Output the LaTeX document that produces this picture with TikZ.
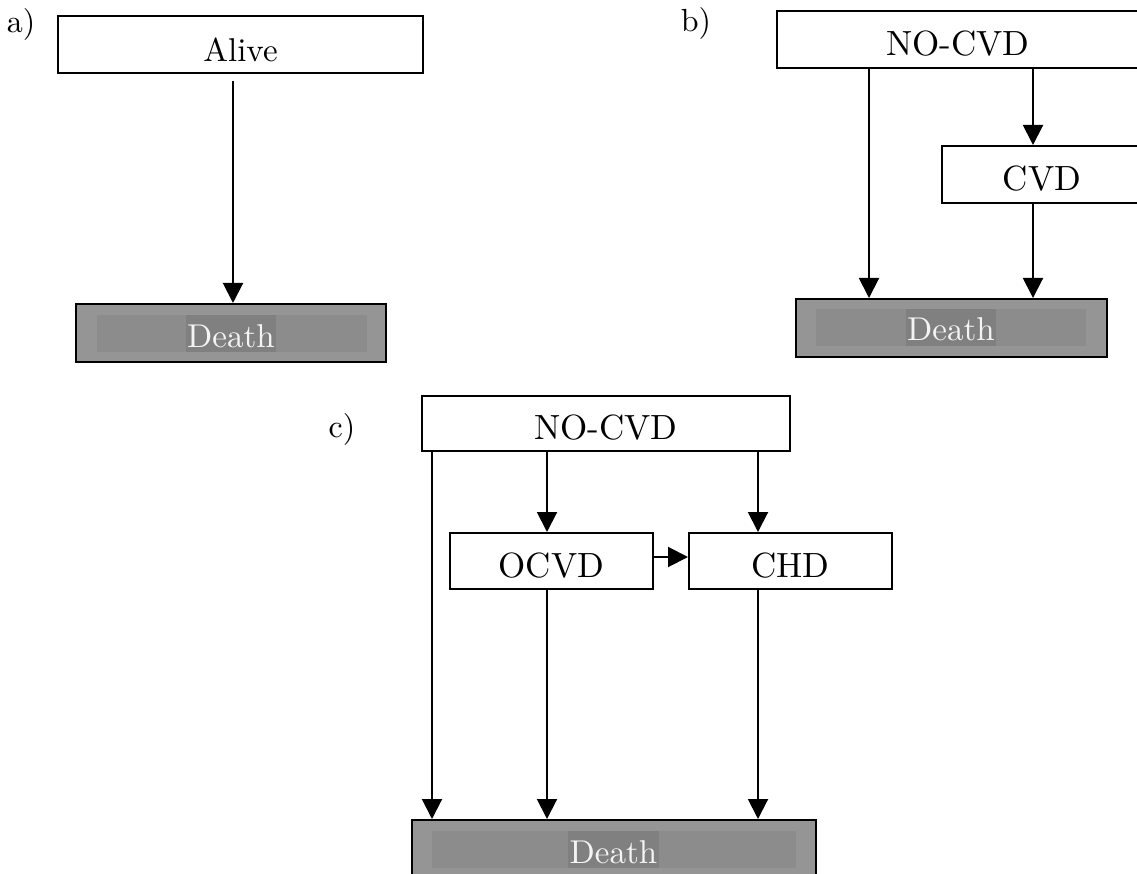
\documentclass[tikz,border=0pt]{standalone}
\usepackage{fontspec}
\setmainfont{lmroman10-regular.otf}
\usetikzlibrary{arrows.meta}
\definecolor{deathout}{HTML}{959595}
\definecolor{deathin}{HTML}{8C8C8C}
\definecolor{deathmark}{HTML}{808080}
\definecolor{deathtext}{HTML}{F4F4F4}
\tikzset{
  statebox/.style={draw=black, line width=2pt, fill=white, inner sep=0pt,
    text height=32pt, text depth=0pt, font=\fontsize{35}{40}\selectfont},
  deathbox/.style={draw=black, line width=2pt, fill=deathout, inner sep=0pt},
  deathlabel/.style={fill=deathmark, text=deathtext, inner xsep=1.5pt, inner ysep=0pt,
    text height=27pt, text depth=0pt, minimum height=37pt,
    font=\fontsize{33}{40}\selectfont},
  panel/.style={font=\fontsize{32}{38}\selectfont, inner sep=0pt},
  arr/.style={line width=2pt, -{Triangle[width=20pt,length=20pt]}}
}
\begin{document}
\begin{tikzpicture}[x=1pt, y=-1pt]
\clip (0,0) rectangle (1137,874);
\fill[white] (0,0) rectangle (1137,874);

% ---------- panel a ----------
\node[panel] (la) at (21,25) {a)};
\node[statebox, minimum width=365pt, minimum height=57pt, text height=35pt,
      font=\fontsize{33}{40}\selectfont] (alive) at (240.5,44.5) {Alive};
\node[deathbox, minimum width=310pt, minimum height=58pt] (deatha) at (231,333) {};
\fill[deathin] (97,315) rectangle (367,352);
\node[deathlabel] (ta) at (231,333.5) {Death};
\coordinate (a1) at (233,81);
\draw[arr] (a1) -- (a1 |- deatha.north);

% ---------- panel b ----------
\node[panel] (lb) at (696,24) {b)};
\node[statebox, minimum width=362pt, minimum height=57pt] (nocvdb) at (958,39.5) {NO-CVD};
\node[statebox, minimum width=200pt, minimum height=57pt] (cvd) at (1042,174.5) {CVD};
\node[deathbox, minimum width=311pt, minimum height=58pt] (deathb) at (951.5,328) {};
\fill[deathin] (816,309) rectangle (1086,346);
\node[deathlabel] (tb) at (951,327.5) {Death};
\coordinate (bl) at (869,0);
\coordinate (br) at (1033,0);
\draw[arr] (nocvdb.south -| bl) -- (deathb.north -| bl);
\draw[arr] (nocvdb.south -| br) -- (cvd.north -| br);
\draw[arr] (cvd.south -| br) -- (deathb.north -| br);

% ---------- panel c ----------
\node[panel] (lc) at (342,429) {c)};
\node[statebox, minimum width=368pt, minimum height=55pt] (nocvdc) at (606,423.5) {NO-CVD};
\node[statebox, minimum width=203pt, minimum height=56pt] (ocvd) at (551.5,561) {OCVD};
\node[statebox, minimum width=203pt, minimum height=56pt] (chd) at (790.5,561) {CHD};
\node[deathbox, minimum width=404pt, minimum height=58pt] (deathc) at (614,849) {};
\fill[deathin] (432,831) rectangle (796,868);
\node[deathlabel] (tc) at (613.5,849.5) {Death};
\coordinate (c1) at (432,0);
\coordinate (c2) at (547,0);
\coordinate (c3) at (758,0);
\coordinate (hy) at (0,557);
\draw[arr] (nocvdc.south -| c1) -- (deathc.north -| c1);
\draw[arr] (nocvdc.south -| c2) -- (ocvd.north -| c2);
\draw[arr] (nocvdc.south -| c3) -- (chd.north -| c3);
\draw[arr] (ocvd.east |- hy) -- (chd.west |- hy);
\draw[arr] (ocvd.south -| c2) -- (deathc.north -| c2);
\draw[arr] (chd.south -| c3) -- (deathc.north -| c3);
\end{tikzpicture}
\end{document}
